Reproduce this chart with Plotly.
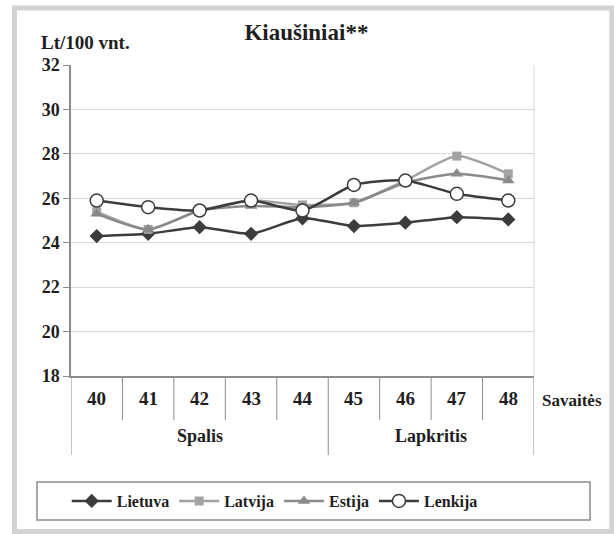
import plotly.graph_objects as go

weeks = ["40", "41", "42", "43", "44", "45", "46", "47", "48"]
months = ["Spalis", "Lapkritis"]
month_spans = [(0, 4), (5, 8)]

lietuva = [24.3, 24.4, 24.7, 24.4, 25.1, 24.75, 24.9, 25.15, 25.05]
latvija = [25.4, 24.6, 25.45, 25.9, 25.7, 25.8, 26.8, 27.9, 27.1]
estija = [25.3, 24.6, 25.45, 25.65, 25.6, 25.8, 26.7, 27.1, 26.8]
lenkija = [25.9, 25.6, 25.45, 25.9, 25.45, 26.6, 26.8, 26.2, 25.9]

FONT = "Liberation Serif"
INK = "#1e1e1e"
xs = list(range(len(weeks)))


def f(size):
    return dict(family=FONT, size=size, color=INK, weight="bold")


fig = go.Figure()
series = [
    ("Lietuva", lietuva, "#3c3c3c", dict(symbol="diamond", size=11, color="#3c3c3c")),
    ("Latvija", latvija, "#a3a3a3", dict(symbol="square", size=9, color="#a3a3a3")),
    ("Estija", estija, "#8a8a8a", dict(symbol="triangle-up", size=11, color="#8a8a8a")),
    ("Lenkija", lenkija, "#3c3c3c", dict(symbol="circle", size=13, color="white",
                                          line=dict(color="#3c3c3c", width=1.5))),
]
for name, vals, col, mk in series:
    fig.add_trace(go.Scatter(
        x=xs, y=vals, name=name, mode="lines+markers",
        line=dict(color=col, width=2.5, shape="spline", smoothing=0.6),
        marker=mk,
    ))

shapes = []
# week separators
for i in range(len(weeks) + 1):
    b = i - 0.5
    long = b in (-0.5, 8.5) or any(b == s[1] + 0.5 for s in month_spans)
    shapes.append(dict(type="line", xref="x", yref="paper", x0=b, x1=b,
                       y0=0, y1=-0.254 if long else -0.1415,
                       line=dict(color="#8c8c8c", width=1)))
# plot right border
shapes.append(dict(type="line", xref="paper", yref="paper", x0=1, x1=1, y0=0, y1=1,
                   line=dict(color="#d9d9d9", width=1)))
# legend box
shapes.append(dict(type="rect", xref="paper", yref="paper", x0=-0.0734, x1=1.121,
                   y0=-0.463, y1=-0.341, line=dict(color="#8c8c8c", width=1.5)))
# outer frame
shapes.append(dict(type="rect", xref="paper", yref="paper", x0=-0.122, x1=1.168,
                   y0=-0.5, y1=1.183, line=dict(color="#d3d3d3", width=5)))

annotations = []
for i, w in enumerate(weeks):
    annotations.append(dict(x=i, y=-0.072, xref="x", yref="paper", text=w,
                            yanchor="middle", showarrow=False, font=f(19)))
for m, (a, b) in zip(months, month_spans):
    annotations.append(dict(x=(a + b) / 2, y=-0.193, xref="x", yref="paper", text=m,
                            yanchor="middle", showarrow=False, font=f(18)))
annotations.append(dict(x=1.012, y=-0.078, xref="paper", yref="paper", text="Savaitės",
                        xanchor="left", yanchor="middle", showarrow=False, font=f(17)))
annotations.append(dict(x=-0.07, y=1.072, xref="paper", yref="paper", text="Lt/100 vnt.",
                        xanchor="left", yanchor="middle", showarrow=False, font=f(19)))

fig.update_layout(
    width=614, height=534,
    margin=dict(l=71, r=80, t=65, b=158),
    paper_bgcolor="white", plot_bgcolor="white",
    font=f(16),
    title=dict(text="Kiaušiniai**", x=0.499, xanchor="center", y=0.94, yanchor="middle",
               font=f(23)),
    xaxis=dict(range=[-0.5, 8.5], showticklabels=False, showgrid=False,
               zeroline=False, showline=True, linecolor="#8c8c8c", linewidth=1.5,
               fixedrange=True),
    yaxis=dict(range=[18, 32], dtick=2, showgrid=True, gridcolor="#d9d9d9",
               gridwidth=1, showline=True, linecolor="#8c8c8c", linewidth=1.5,
               ticks="outside", ticklen=6, tickcolor="#8c8c8c", zeroline=False,
               tickfont=f(18)),
    legend=dict(orientation="h", x=0.44, xanchor="center", y=-0.402, yanchor="middle",
                bgcolor="rgba(0,0,0,0)", font=f(16), itemwidth=40,
                tracegroupgap=0),
    shapes=shapes, annotations=annotations,
    showlegend=True,
)

fig.write_html("out.html", config={"displayModeBar": False},
               post_script="document.body.style.margin='0';")
